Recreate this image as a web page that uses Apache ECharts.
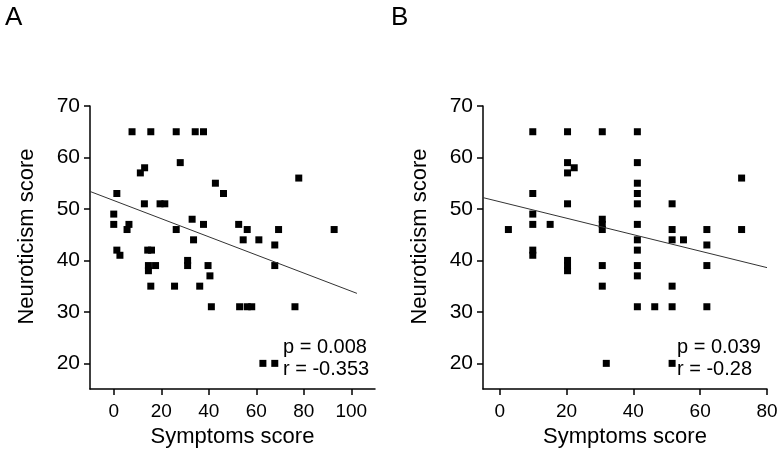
<!DOCTYPE html>
<html>
<head>
<meta charset="utf-8">
<script src="https://cdn.jsdelivr.net/npm/echarts@6/dist/echarts.min.js"></script>
<style>
  html, body { margin: 0; padding: 0; background: #fff; }
  #main { width: 782px; height: 453px; }
</style>
</head>
<body>
<div id="main"></div>
<script>
// panel A: symptoms score vs neuroticism score
var pointsA = [
  [0, 49], [0, 47], [1.3, 53], [1.3, 42], [2.6, 41], [5.6, 46], [6.4, 47],
  [7.7, 65], [11.2, 57], [13, 58], [12.9, 51], [15.6, 65], [14.3, 42], [15.9, 42],
  [14.6, 39], [14.6, 38], [17.6, 39], [15.6, 35], [19.5, 51], [21.5, 51],
  [26.3, 65], [26.3, 46], [25.6, 35], [28, 59], [34.3, 65], [37.8, 65],
  [33, 48], [33.6, 44], [37.8, 47], [31.1, 40], [31.1, 39], [36.2, 35],
  [39.7, 39], [40.5, 37], [41.1, 31], [42.8, 55], [46.2, 53], [52.6, 47],
  [54.5, 44], [56.2, 46], [53, 31], [56.2, 31], [58.1, 31], [61.1, 44],
  [67.8, 43], [69.4, 46], [67.8, 39], [62.8, 20], [67.8, 20], [76.3, 31],
  [77.9, 56], [92.8, 46]
];
var fitA = [[-10, 53.4], [102.4, 33.6]];

// panel B
var pointsB = [
  [2.6, 46], [9.9, 65], [9.9, 53], [9.9, 49], [9.9, 47], [9.9, 42], [9.9, 41],
  [15.1, 47], [20.3, 65], [20.3, 59], [20.3, 57], [22.3, 58], [20.3, 51],
  [20.3, 40], [20.3, 39], [20.3, 38], [30.7, 65], [30.7, 48], [30.7, 47],
  [30.7, 46], [30.7, 39], [30.7, 35], [31.9, 20], [41.2, 65], [41.2, 59],
  [41.2, 55], [41.2, 53], [41.2, 51], [41.2, 47], [41.2, 44], [41.2, 42],
  [41.2, 39], [41.2, 37], [41.2, 31], [46.4, 31], [51.6, 51], [51.6, 46],
  [51.6, 44], [51.6, 35], [51.6, 31], [51.6, 20], [55, 44], [62, 46],
  [62, 43], [62, 39], [62, 31], [72.4, 56], [72.4, 46]
];
var fitB = [[-5, 52.2], [80, 38.6]];

var yTicks = [20, 30, 40, 50, 60, 70];
var xTicksA = [0, 20, 40, 60, 80, 100];
var xTicksB = [0, 20, 40, 60, 80];

var statsA = ["p = 0.008", "r = -0.353"];
var statsB = ["p = 0.039", "r = -0.28"];

var font = "'Liberation Sans', Arial, sans-serif";

function xAxis(idx, min, max, ticks) {
  return {
    type: 'value', gridIndex: idx, min: min, max: max,
    name: 'Symptoms score', nameLocation: 'middle', nameGap: 35,
    nameTextStyle: { fontFamily: font, fontSize: 22, color: '#000' },
    axisLine: { show: true, onZero: false, lineStyle: { color: '#000', width: 1.5 } },
    axisTick: { show: true, length: 6, customValues: ticks, lineStyle: { color: '#000', width: 1.5 } },
    axisLabel: { customValues: ticks, margin: 13, fontFamily: font, fontSize: 19, color: '#000' },
    splitLine: { show: false }
  };
}
function yAxis(idx) {
  return {
    type: 'value', gridIndex: idx, min: 15, max: 70,
    name: 'Neuroticism score', nameLocation: 'middle', nameGap: 52,
    nameTextStyle: { fontFamily: font, fontSize: 22, color: '#000', padding: [0, 0, 0, 22] },
    axisLine: { show: true, onZero: false, lineStyle: { color: '#000', width: 1.5 } },
    axisTick: { show: true, length: 6, customValues: yTicks, lineStyle: { color: '#000', width: 1.5 } },
    axisLabel: { customValues: yTicks, margin: 10, fontFamily: font, fontSize: 21, color: '#000' },
    splitLine: { show: false }
  };
}
function stat(text, left, top) {
  return { text: text, left: left, top: top, padding: 0,
    textStyle: { fontFamily: font, fontSize: 20, fontWeight: 'normal', color: '#000' } };
}

var chart = echarts.init(document.getElementById('main'));
chart.setOption({
  animation: false,
  backgroundColor: '#fff',
  title: [
    { text: 'A', left: 5, top: 5, padding: 0, textStyle: { fontFamily: font, fontSize: 26, fontWeight: 'normal', color: '#000' } },
    { text: 'B', left: 391, top: 5, padding: 0, textStyle: { fontFamily: font, fontSize: 26, fontWeight: 'normal', color: '#000' } },
    stat(statsA[0], 283, 337), stat(statsA[1], 283, 359),
    stat(statsB[0], 677, 337), stat(statsB[1], 677, 359)
  ],
  grid: [
    { left: 90, top: 106, width: 285, height: 284 },
    { left: 483, top: 106, width: 284, height: 284 }
  ],
  xAxis: [xAxis(0, -10, 110, xTicksA), xAxis(1, -5, 80, xTicksB)],
  yAxis: [yAxis(0), yAxis(1)],
  series: [
    { type: 'scatter', xAxisIndex: 0, yAxisIndex: 0, data: pointsA, symbol: 'rect', symbolSize: 7, itemStyle: { color: '#000', opacity: 1 } },
    { type: 'line', xAxisIndex: 0, yAxisIndex: 0, data: fitA, symbol: 'none', lineStyle: { color: '#333', width: 1 } },
    { type: 'scatter', xAxisIndex: 1, yAxisIndex: 1, data: pointsB, symbol: 'rect', symbolSize: 7, itemStyle: { color: '#000', opacity: 1 } },
    { type: 'line', xAxisIndex: 1, yAxisIndex: 1, data: fitB, symbol: 'none', lineStyle: { color: '#333', width: 1 } }
  ]
});
</script>
</body>
</html>
